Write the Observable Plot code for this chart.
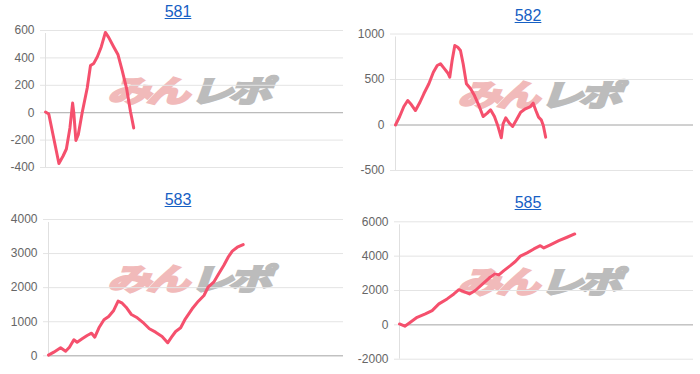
<!DOCTYPE html>
<html>
<head>
<meta charset="utf-8">
<script src="https://cdn.jsdelivr.net/npm/d3@7"></script>
<script src="https://cdn.jsdelivr.net/npm/@observablehq/plot@0.6"></script>
<style>
  html, body { margin: 0; padding: 0; background: #fff; }
  #root { position: relative; width: 700px; height: 374px; overflow: hidden; font-family: "Liberation Sans", Arial, Helvetica, sans-serif; }
  .panel { position: absolute; width: 350px; height: 187px; }
  .panel svg { position: absolute; left: 0; top: 0; background: transparent; }
  .title { position: absolute; left: 0; width: 356px; text-align: center; font-size: 16px; line-height: 18px; z-index: 3; }
  .title a { color: #1660c4; text-decoration: underline; }
  .wm { position: absolute; z-index: 0; white-space: nowrap; font-family: "Noto Sans CJK JP", sans-serif; font-weight: 700; font-size: 30px; line-height: 30px; letter-spacing: -3px; transform-origin: left center; transform: scaleX(1.44) skewX(-14deg); }
  .wm .p { color: #f1baba; -webkit-text-stroke: 2.5px #f1baba; }
  .wm .g { color: #bcbcbc; -webkit-text-stroke: 2.5px #bcbcbc; margin-left: 3px; }
</style>
</head>
<body>
<div id="root"></div>
<script>
// ---- Data ----
const titles = ["581", "582", "583", "585"];

// 581
const games581 = [0,110,450,590,700,820,910,950,1020,1100,1230,1400,1510,1620,1740,1870,2010,2120,2290,2430,2570,2720,2850,2960];
const diff581  = [5,-9,-371,-316,-265,-111,70,-2,-203,-160,0,180,344,360,408,480,586,550,480,425,311,178,10,-111];
const ticks581 = [-400,-200,0,200,400,600];

// 582
const games582 = [0,140,280,410,530,670,820,950,1120,1270,1400,1510,1620,1760,1820,1900,1990,2090,2180,2270,2380,2520,2650,2800,2940,3080,3190,3320,3430,3550,3610,3700,3820,3930,4060,4200,4360,4530,4620,4710,4800,4890,4960,5040];
const diff582  = [0,93,203,269,225,159,250,343,453,580,654,673,628,569,525,709,874,855,819,673,453,398,324,214,93,130,167,93,-5,-141,13,79,20,-16,57,141,178,203,240,159,86,57,-5,-134];
const ticks582 = [-500,0,500,1000];

// 583
const games583 = [0,180,410,580,710,860,970,1140,1310,1460,1570,1710,1880,2040,2210,2360,2500,2630,2810,3010,3230,3420,3630,3850,4040,4170,4310,4480,4640,4870,5080,5270,5410,5600,5770,5940,6090,6230,6400,6600];
const diff583  = [20,106,235,135,252,470,400,499,596,663,546,822,1057,1154,1330,1603,1544,1426,1212,1115,957,793,693,567,382,546,713,822,1086,1379,1603,1770,2013,2160,2406,2650,2894,3070,3187,3266];
const ticks583 = [0,1000,2000,3000,4000];

// 585
const games585 = [0,180,370,600,880,1110,1340,1620,1850,2020,2190,2380,2580,2830,3040,3240,3380,3550,3770,3940,4110,4340,4570,4790,4910,5130,5420,5700,5960];
const diff585  = [50,-80,150,440,640,830,1220,1510,1800,2050,1940,1800,2000,2390,2710,2970,2910,3160,3450,3690,4000,4190,4420,4610,4480,4660,4900,5100,5290];
const ticks585 = [-2000,0,2000,4000,6000];

const xMax = 10000;

// ---- Layout (panel placement / margins) ----
const panels = [
  {title: titles[0], games: games581, diff: diff581, ticks: ticks581, left: 0,   top: 0,   mt: 30,   mb: 20,  ml: 45, titleTop: 3, wmTop: 74},
  {title: titles[1], games: games582, diff: diff582, ticks: ticks582, left: 350, top: 0,   mt: 33.5, mb: 17,  ml: 45, titleTop: 7, wmTop: 78},
  {title: titles[2], games: games583, diff: diff583, ticks: ticks583, left: 0,   top: 187, mt: 32,   mb: 18.7, ml: 48, titleTop: 4, wmTop: 75},
  {title: titles[3], games: games585, diff: diff585, ticks: ticks585, left: 350, top: 187, mt: 34.3, mb: 15.3, ml: 49, titleTop: 7, wmTop: 78}
];

const root = document.getElementById("root");

for (const p of panels) {
  const div = document.createElement("div");
  div.className = "panel";
  div.style.left = p.left + "px";
  div.style.top = p.top + "px";

  const t = document.createElement("div");
  t.className = "title";
  t.style.top = p.titleTop + "px";
  t.innerHTML = `<a href="#">${p.title}</a>`;
  div.appendChild(t);

  const wm = document.createElement("div");
  wm.className = "wm";
  wm.style.left = "112px";
  wm.style.top = p.wmTop + "px";
  wm.innerHTML = `<span class="p">みん</span><span class="g">レポ</span>`;
  div.appendChild(wm);

  const data = p.games.map((g, i) => ({game: g, diff: p.diff[i]}));
  const yDom = [d3.min(p.ticks), d3.max(p.ticks)];

  const chart = Plot.plot({
    width: 350,
    height: 187,
    marginLeft: p.ml,
    marginRight: 7,
    marginTop: p.mt,
    marginBottom: p.mb,
    style: {background: "transparent", fontFamily: "Liberation Sans, Arial, Helvetica, sans-serif", overflow: "visible"},
    x: {domain: [0, xMax], axis: null},
    y: {domain: yDom, ticks: p.ticks, label: null},
    marks: [
      Plot.gridY(p.ticks, {stroke: "#e4e4e4", strokeOpacity: 1}),
      Plot.ruleY([0], {stroke: "#b0b0b0"}),
      Plot.ruleX([0], {stroke: "#e0e0e0", y1: yDom[0], y2: yDom[1], insetBottom: -3}),
      Plot.axisY(p.ticks, {tickSize: 5, stroke: "#e4e4e4", tickPadding: 6, fill: "#666", fontSize: 12, label: null, tickFormat: d => String(d)}),
      Plot.line(data, {x: "game", y: "diff", stroke: "#f5506d", strokeWidth: 3, strokeLinejoin: "round", strokeLinecap: "round"})
    ]
  });
  chart.style.zIndex = 1;
  div.appendChild(chart);
  root.appendChild(div);
}
</script>
</body>
</html>
